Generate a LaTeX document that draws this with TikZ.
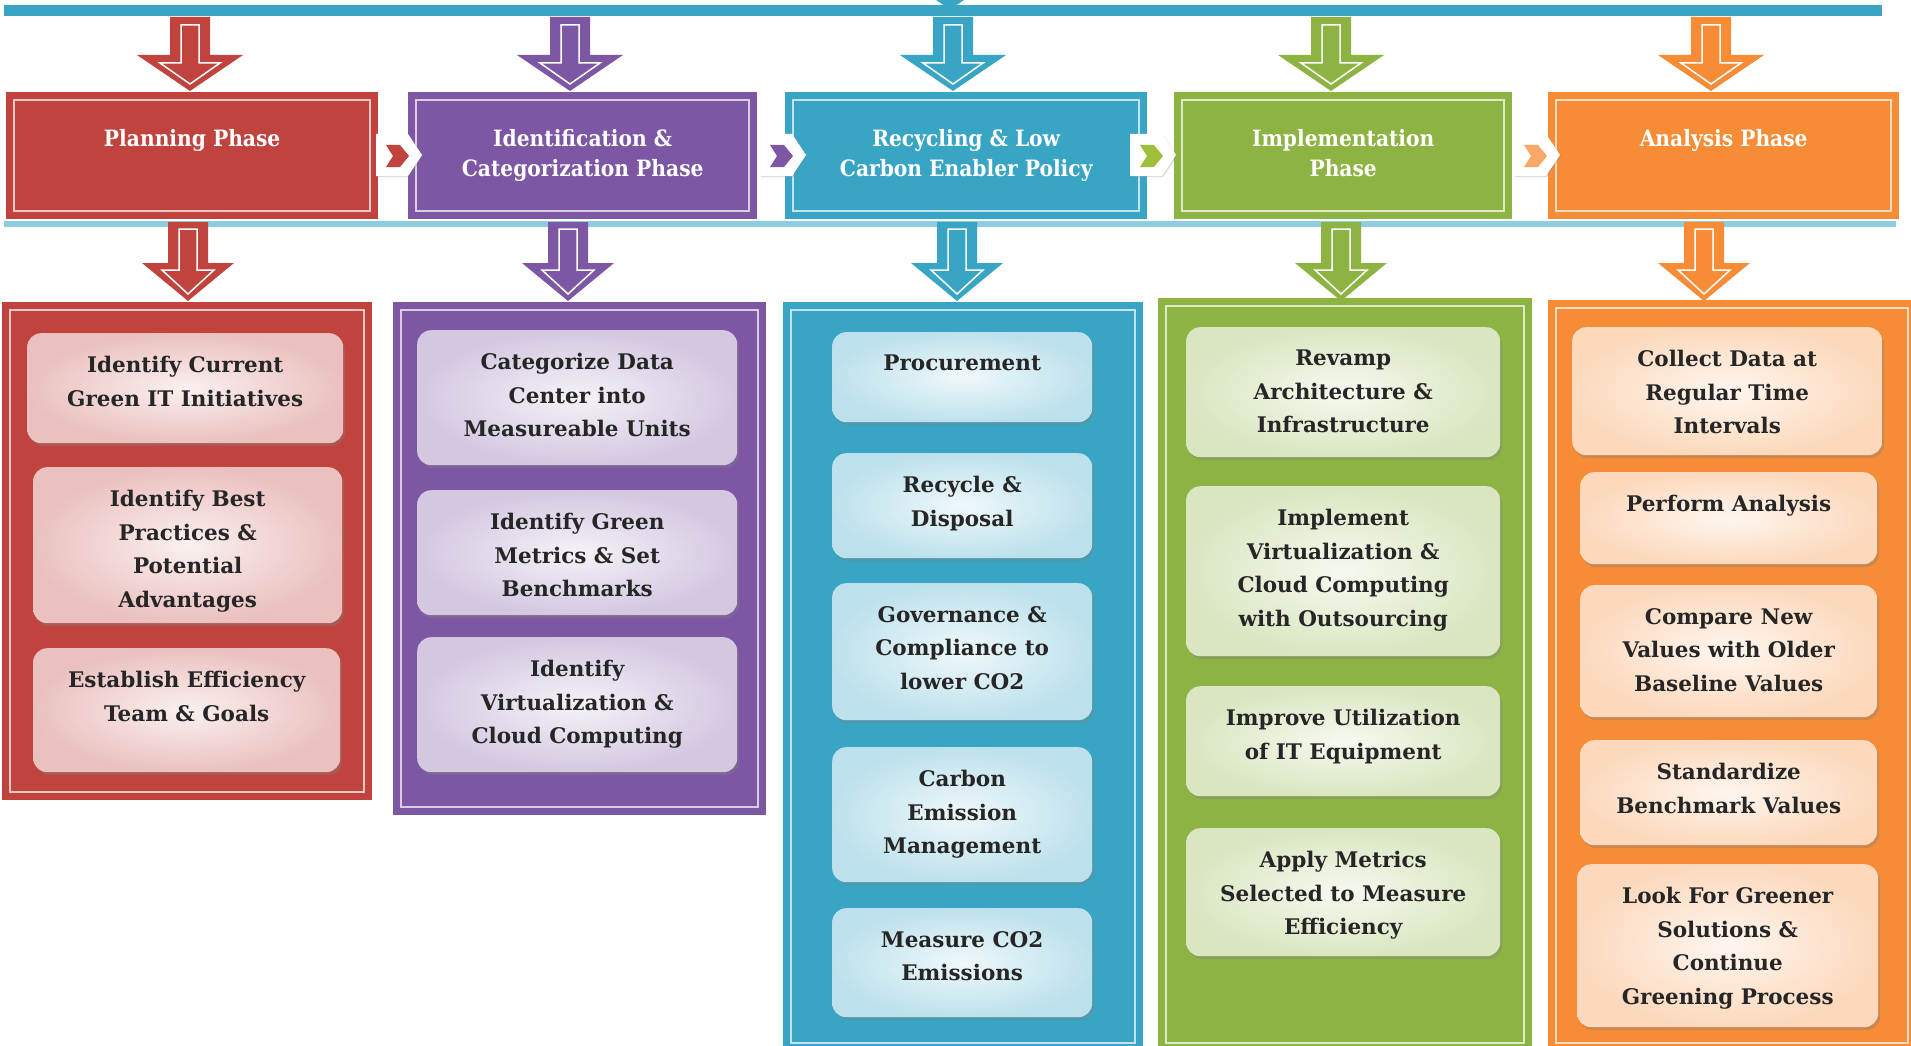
\documentclass[tikz,border=0pt]{standalone}
\usepackage{fontspec}
\setmainfont{DejaVu Serif}
\newfontfamily\headfont{DejaVu Serif Condensed}
\usetikzlibrary{shadows,positioning}

\definecolor{phred}{HTML}{C0433D}
\definecolor{phpurple}{HTML}{7D57A3}
\definecolor{phblue}{HTML}{38A5C5}
\definecolor{phgreen}{HTML}{8DB443}
\definecolor{phorange}{HTML}{F68C36}
\definecolor{linelight}{HTML}{8ECCE0}

\tikzset{
  headbox/.style={rectangle, anchor=north west, inner sep=0pt},
  headtext/.style={text=white, align=center, inner sep=0pt,
    font=\headfont\bfseries\fontsize{22.5}{30}\selectfont},
  colbox/.style={rectangle, anchor=north west, inner sep=0pt},
  stepbox/.style={rectangle, rounded corners=14pt, anchor=north west, inner sep=0pt,
    drop shadow={shadow xshift=2pt, shadow yshift=-3pt, opacity=.35}},
  steptext/.style={align=center, text=black!85, inner sep=0pt,
    font=\bfseries\fontsize{21.5}{33.5}\selectfont},
}

\begin{document}
\begin{tikzpicture}[x=1pt,y=-1pt]
  \fill[white] (0,0) rectangle (1911,1046);
  \useasboundingbox (0,0) rectangle (1911,1046);

  % lines
  \fill[phblue] (936,0) -- (964,0) -- (955,6) -- (945,6) -- cycle;
  \draw[phblue, line width=11] (4,11) -- (1882,11);
  \draw[linelight, line width=6] (4,224) -- (1896,224);

  % top arrows
  \foreach \x/\col in {190/phred,570/phpurple,953/phblue,1331/phgreen,1711/phorange}{
    \fill[\col] (\x-20,17) -- (\x+20,17) -- (\x+20,55) -- (\x+53,55) -- (\x,91)
      -- (\x-53,55) -- (\x-20,55) -- cycle;
    \draw[white, line width=1.5] (\x-9,25) -- (\x+9,25) -- (\x+9,63) -- (\x+30,63)
      -- (\x,84) -- (\x-30,63) -- (\x-9,63) -- cycle;
  }

  % phases
  \foreach \n/\col/\xa/\xb/\txt in {
      1/phred/6/378/{Planning Phase},
      2/phpurple/408/757/{Identification \&\\Categorization Phase},
      3/phblue/785/1147/{Recycling \& Low\\Carbon Enabler Policy},
      4/phgreen/1174/1512/{Implementation\\Phase},
      5/phorange/1548/1899/{Analysis Phase}}{
    \node[headbox, fill=\col, minimum width={\xb-\xa}, minimum height=127] (h\n) at (\xa,92) {};
    \draw[\col!30!white, line width=2] ([shift={(8,8)}]h\n.north west)
      rectangle ([shift={(-8,-8)}]h\n.south east);
    \node[headtext, below=37pt of h\n.north] (ht\n) {\txt};
  }

  % chevrons
  \foreach \x/\col in {398/phred,782/phpurple,1152/phgreen!85!yellow,1536/phorange!75!white}{
    \fill[white, drop shadow={shadow xshift=1pt, shadow yshift=-1pt, opacity=.3}]
      (\x-22,134) -- (\x+10,134) -- (\x+24,155) -- (\x+10,176) -- (\x-22,176) -- cycle;
    \fill[\col] (\x-12,145) -- (\x+2,145) -- (\x+11,156) -- (\x+2,167) -- (\x-12,167)
      -- (\x-5,156) -- cycle;
  }

  % columns
  \foreach \n/\col/\xa/\xb/\ya/\yb in {
      1/phred/2/372/302/800,
      2/phpurple/393/766/302/815,
      3/phblue/783/1143/302/1051,
      4/phgreen/1158/1532/298/1051,
      5/phorange/1548/1916/300/1051}{
    \node[colbox, fill=\col, minimum width={\xb-\xa}, minimum height={\yb-\ya}] (c\n) at (\xa,\ya) {};
    \draw[\col!30!white, line width=2] ([shift={(8,8)}]c\n.north west)
      rectangle ([shift={(-8,-8)}]c\n.south east);
  }

  % bottom arrows
  \foreach \x/\col in {188/phred,568/phpurple,957/phblue,1341/phgreen,1704/phorange}{
    \fill[\col] (\x-20,222) -- (\x+20,222) -- (\x+20,263) -- (\x+46,263) -- (\x,301)
      -- (\x-46,263) -- (\x-20,263) -- cycle;
    \draw[white, line width=1.5] (\x-9,229) -- (\x+9,229) -- (\x+9,270) -- (\x+26,270)
      -- (\x,294) -- (\x-26,270) -- (\x-9,270) -- cycle;
  }

  % steps
  \foreach \n/\col/\xa/\ya/\xb/\yb/\txt in {
      r1/phred/27/333/343/443/{Identify Current\\Green IT Initiatives},
      r2/phred/33/467/342/623/{Identify Best\\Practices \&\\Potential\\Advantages},
      r3/phred/33/648/340/772/{Establish Efficiency\\Team \& Goals},
      p1/phpurple/417/330/737/465/{Categorize Data\\Center into\\Measureable Units},
      p2/phpurple/417/490/737/615/{Identify Green\\Metrics \& Set\\Benchmarks},
      p3/phpurple/417/637/737/772/{Identify\\Virtualization \&\\Cloud Computing},
      b1/phblue/832/332/1092/422/{Procurement},
      b2/phblue/832/453/1092/558/{Recycle \&\\Disposal},
      b3/phblue/832/583/1092/720/{Governance \&\\Compliance to\\lower CO2},
      b4/phblue/832/747/1092/882/{Carbon\\Emission\\Management},
      b5/phblue/832/908/1092/1017/{Measure CO2\\Emissions},
      g1/phgreen/1186/327/1500/457/{Revamp\\Architecture \&\\Infrastructure},
      g2/phgreen/1186/486/1500/656/{Implement\\Virtualization \&\\Cloud Computing\\with Outsourcing},
      g3/phgreen/1186/686/1500/796/{Improve Utilization\\of IT Equipment},
      g4/phgreen/1186/828/1500/956/{Apply Metrics\\Selected to Measure\\Efficiency},
      o1/phorange/1572/327/1882/455/{Collect Data at\\Regular Time\\Intervals},
      o2/phorange/1580/472/1877/564/{Perform Analysis},
      o3/phorange/1580/585/1877/717/{Compare New\\Values with Older\\Baseline Values},
      o4/phorange/1580/740/1877/845/{Standardize\\Benchmark Values},
      o5/phorange/1577/864/1878/1027/{Look For Greener\\Solutions \&\\Continue\\Greening Process}}{
    \node[stepbox, inner color=\col!8, outer color=\col!33,
      minimum width={\xb-\xa}, minimum height={\yb-\ya}] (\n) at (\xa,\ya) {};
    \node[steptext, below=23pt of \n.north] (t\n) {\txt};
  }
\end{tikzpicture}
\end{document}
